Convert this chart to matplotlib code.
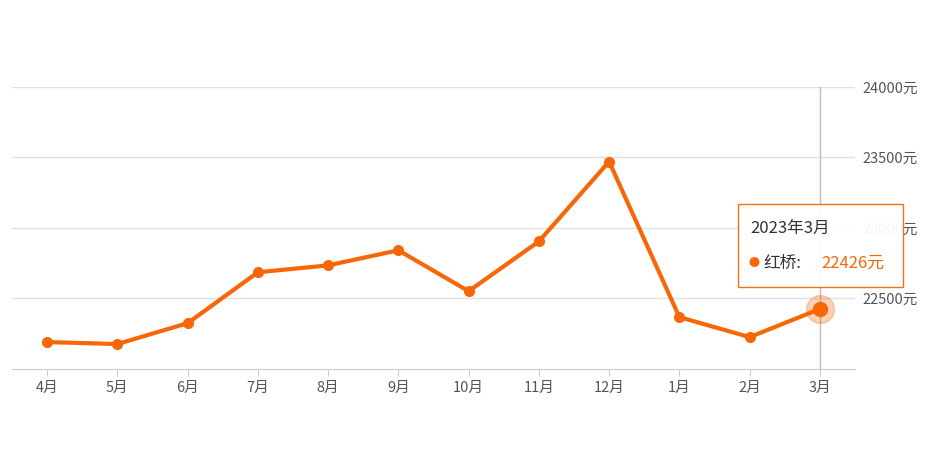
import matplotlib
matplotlib.use("Agg")
import matplotlib.pyplot as plt
from matplotlib.patches import FancyBboxPatch

plt.rcParams['font.family'] = ['Noto Sans CJK SC', 'DejaVu Sans']

months = ['4月', '5月', '6月', '7月', '8月', '9月', '10月', '11月', '12月', '1月', '2月', '3月']
prices = [22191, 22177, 22325, 22686, 22735, 22842, 22552, 22905, 23471, 22368, 22226, 22426]
yticks = [22500, 23000, 23500, 24000]
color = '#f76707'

W, H = 947, 467
fig = plt.figure(figsize=(W/100, H/100), dpi=100)
ax = fig.add_axes([12/W, (H-369)/H, 843/W, (369-87)/H])
x = list(range(len(months)))
ax.set_xlim(-0.5, len(months)-0.5)
ax.set_ylim(22000, 24000)
for t in yticks:
    ax.axhline(t, color='#e0e0e0', lw=1, zorder=0)
ax.axvline(x[-1], color='#bbbbbb', lw=1, zorder=1)
ax.plot(x, prices, color=color, lw=3, marker='o', ms=7, zorder=3)
ax.plot(x[-1], prices[-1], 'o', color=color, ms=20, alpha=0.3, zorder=2)
ax.plot(x[-1], prices[-1], 'o', color=color, ms=10, zorder=4)
for s in ['top', 'left', 'right']:
    ax.spines[s].set_visible(False)
ax.spines['bottom'].set_color('#cccccc')
ax.set_xticks(x)
ax.set_xticklabels(months, fontsize=10.5, color='#555555')
ax.tick_params(axis='x', length=5, color='#cccccc')
ax.yaxis.tick_right()
ax.set_yticks(yticks)
ax.set_yticklabels([f'{t}元' for t in yticks], fontsize=10.5, color='#555555')
ax.tick_params(axis='y', length=0, pad=5)

# tooltip
box = FancyBboxPatch((738/W, 1-287/H), 165/W, 83/H, boxstyle='square,pad=0',
                     transform=fig.transFigure, facecolor='white', edgecolor=color,
                     lw=1, alpha=0.95, zorder=10)
fig.patches.append(box)
fig.text(750/W, 1-228/H, '2023年3月', fontsize=12, color='#333333', va='center', zorder=11)
fig.text(748/W, 1-263/H, '●', fontsize=8, color=color, va='center', zorder=11)
fig.text(763/W, 1-263/H, '红桥:', fontsize=12, color='#333333', va='center', zorder=11)
fig.text(821/W, 1-263/H, f'{prices[-1]}元', fontsize=12, color=color, va='center', zorder=11)

fig.savefig('out.png', dpi=100)
